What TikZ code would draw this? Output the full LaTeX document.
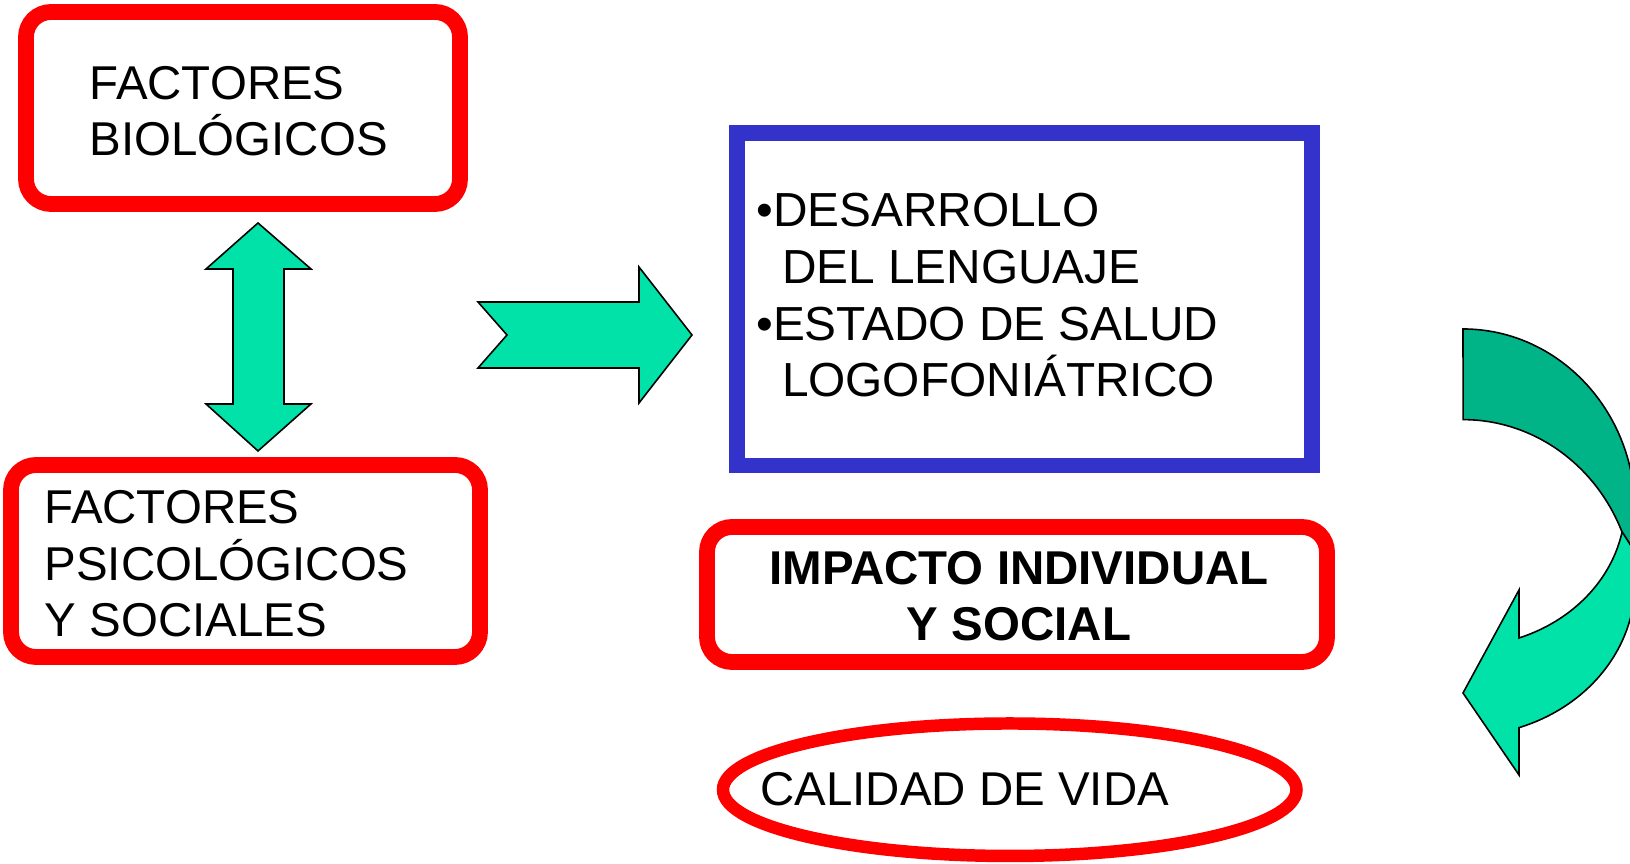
\documentclass[tikz,border=0pt]{standalone}
\usepackage{fontspec}
\setmainfont{Liberation Sans}
\usepackage{xcolor}
\usepackage{tikz}
\usetikzlibrary{shapes.geometric}
\definecolor{boxred}{RGB}{255,0,0}
\definecolor{boxblue}{RGB}{51,51,204}
\definecolor{arrowgreen}{RGB}{0,226,168}
\definecolor{arrowdark}{RGB}{0,180,136}

\begin{document}
\begin{tikzpicture}[
    redbox/.style={draw=boxred, line width=4.5pt, rounded corners=0.25cm, inner sep=0pt},
    bluebox/.style={draw=boxblue, line width=4.5pt, inner sep=0pt},
    boxtext/.style={inner sep=0pt, anchor=base west, align=left, font=\fontsize{13.5}{16.2}\selectfont},
    blockarrow/.style={draw=black, line width=0.45pt, fill=arrowgreen, line join=miter}
]
    \useasboundingbox (0,0) rectangle (16.3,8.64);

    % --- Factores ---
    \node[redbox, minimum width=4.34cm, minimum height=1.92cm] (bio) at (2.43,7.56) {};
    \node[boxtext] (biotext) at (0.89,7.08) {FACTORES\\BIOLÓGICOS};

    \node[redbox, minimum width=4.69cm, minimum height=1.92cm] (psico) at (2.455,3.03) {};
    \node[boxtext] (psicotext) at (0.44,2.27) {FACTORES\\PSICOLÓGICOS\\Y SOCIALES};

    \draw[blockarrow] (2.58,6.41) -- (3.11,5.95) -- (2.84,5.95) -- (2.84,4.60) -- (3.11,4.60) -- (2.58,4.13)
        -- (2.06,4.60) -- (2.33,4.60) -- (2.33,5.95) -- (2.06,5.95) -- cycle;

    \draw[blockarrow] (4.78,5.62) -- (6.39,5.62) -- (6.39,5.97) -- (6.92,5.29) -- (6.39,4.61) -- (6.39,4.96)
        -- (4.78,4.96) -- (5.07,5.29) -- cycle;

    % --- Desarrollo ---
    \node[bluebox, minimum width=5.75cm, minimum height=3.325cm] (desarrollo) at (10.245,5.6475) {};
    \node[boxtext, font=\fontsize{13.6}{16.2}\selectfont] (desarrollotext) at (7.556,4.67)
        {•DESARROLLO\\\hspace*{0.257cm}DEL LENGUAJE\\•ESTADO DE SALUD\\\hspace*{0.257cm}LOGOFONIÁTRICO};

    % --- Impacto y calidad de vida ---
    \node[redbox, minimum width=6.20cm, minimum height=1.35cm] (impacto) at (10.17,2.695) {};
    \node[boxtext, anchor=base, align=center, font=\bfseries\fontsize{13.5}{16.2}\selectfont]
        (impactotext) at (10.19,2.23) {IMPACTO INDIVIDUAL\\Y SOCIAL};

    \node[ellipse, draw=boxred, line width=3.55pt, inner sep=0pt, minimum width=5.735cm, minimum height=1.325cm]
        (calidad) at (10.0975,0.7425) {};
    \node[boxtext] (calidadtext) at (7.597,0.58) {CALIDAD DE VIDA};

    % --- Flecha curva ---
    \draw[blockarrow, fill=arrowdark] (14.63,5.35) arc[start angle=90, end angle=0, x radius=1.72, y radius=1.82]
        -- (16.40,3.04) -- (16.22,3.32) arc[start angle=22.5, end angle=90, x radius=1.72, y radius=1.82] -- cycle;
    \draw[blockarrow] (15.19,2.26) arc[start angle=-69.8, end angle=-11, x radius=1.62, y radius=1.42]
        -- (16.40,3.04) -- (16.40,2.81) -- (16.35,2.81) arc[start angle=0, end angle=-71, x radius=1.72, y radius=1.53]
        -- (15.19,0.89) -- (14.63,1.71) -- (15.19,2.74) -- cycle;
\end{tikzpicture}
\end{document}
